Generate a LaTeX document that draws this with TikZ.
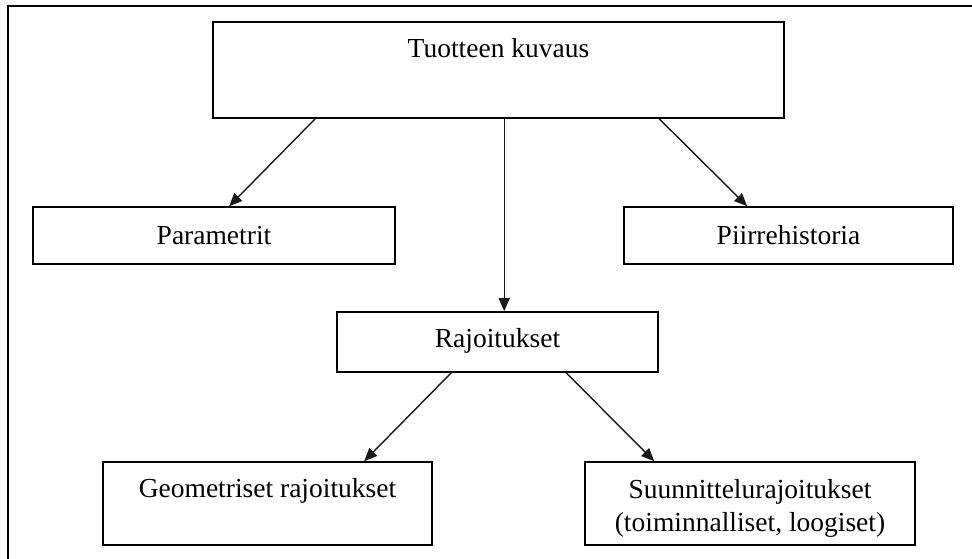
\documentclass[tikz,border=0pt]{standalone}
\usepackage{fontspec}
\setmainfont{Liberation Serif}
\usetikzlibrary{arrows.meta}

\tikzset{
  box/.style={draw=black, line width=1.6pt, fill=white, inner sep=0pt},
  txt/.style={inner sep=0pt, anchor=base, text=black,
              font=\fontsize{27.5}{33}\selectfont},
  arr/.style={draw=black!90, line width=1.4pt,
              -{Triangle[length=13pt,width=11pt]}},
  frame/.style={draw=black, line width=2pt}
}

\begin{document}
\begin{tikzpicture}[x=1pt, y=-1pt]
  \useasboundingbox (0,0) rectangle (972,559);
  \clip (0,0) rectangle (972,559);

  % outer frame (runs off the right and bottom edges)
  \draw[frame] (8,600) -- (8,6) -- (1000,6);

  % boxes
  \node[box, minimum width=571pt, minimum height=96pt] (top) at (498.5,70) {};
  \node[box, minimum width=362pt, minimum height=57pt] (par) at (214,235.5) {};
  \node[box, minimum width=329pt, minimum height=57pt] (pii) at (788.5,235.5) {};
  \node[box, minimum width=321pt, minimum height=60pt] (raj) at (497.5,342) {};
  \node[box, minimum width=329pt, minimum height=83pt] (geo) at (267.5,503.5) {};
  \node[box, minimum width=330pt, minimum height=83pt] (suu) at (750,503.5) {};

  % labels
  \node[txt] (topT) at (498.5,58) {Tuotteen kuvaus};
  \node[txt] (parT) at (214,244) {Parametrit};
  \node[txt] (piiT) at (788.5,244) {Piirrehistoria};
  \node[txt] (rajT) at (497.5,347) {Rajoitukset};
  \node[txt] (geoT) at (267.5,497) {Geometriset rajoitukset};
  \node[txt] (suuT) at (750,498)
    {\begin{tabular}[t]{@{}c@{}}Suunnittelurajoitukset\\(toiminnalliset, loogiset)\end{tabular}};

  % connectors
  \draw[arr] ([xshift=103pt]top.south west) -- ([xshift=197pt]par.north west);
  \draw[arr] ([xshift=292pt]top.south west) -- ([xshift=168pt]raj.north west);
  \draw[arr] ([xshift=447pt]top.south west) -- ([xshift=124pt]pii.north west);
  \draw[arr] ([xshift=115pt]raj.south west) -- ([xshift=262pt]geo.north west);
  \draw[arr] ([xshift=230pt]raj.south west) -- ([xshift=70pt]suu.north west);
\end{tikzpicture}
\end{document}
